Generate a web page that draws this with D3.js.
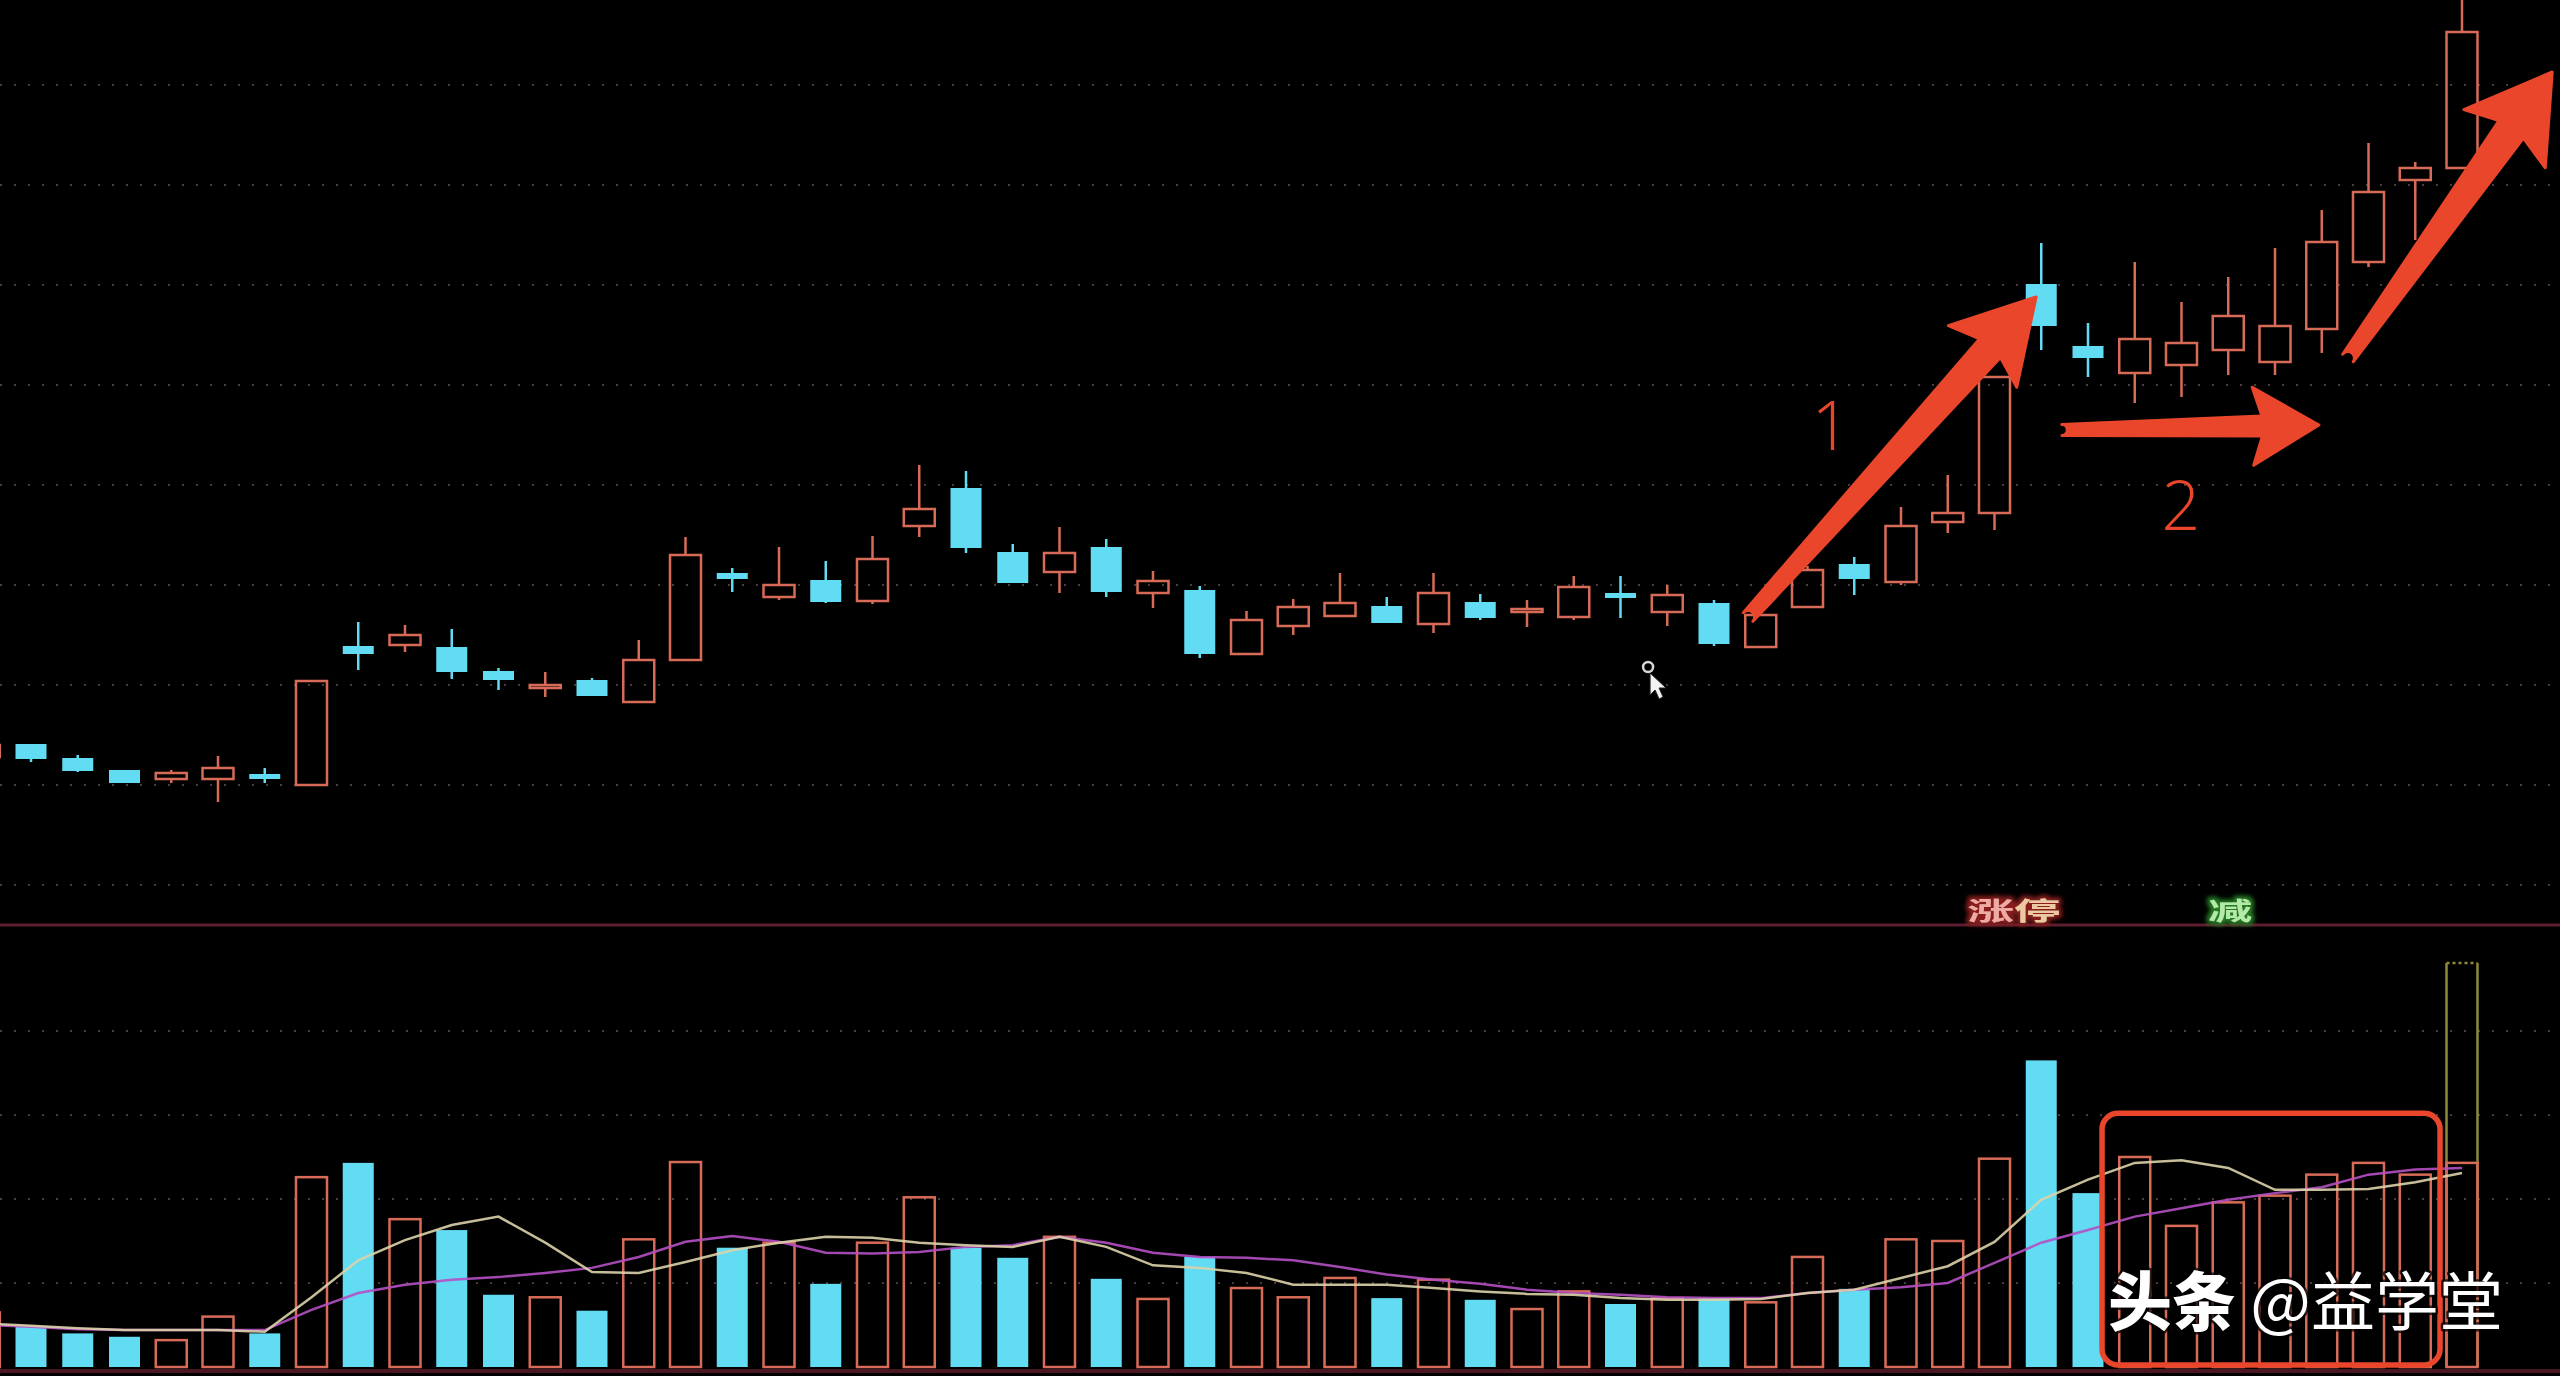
<!DOCTYPE html>
<html>
<head>
<meta charset="utf-8">
<script src="https://cdn.jsdelivr.net/npm/d3@7"></script>
<style>
html,body{margin:0;padding:0;background:#000;overflow:hidden}
svg{display:block}
</style>
</head>
<body>
<svg id="chart" width="2560" height="1376"></svg>
<script>
// ---------------- data ----------------
const days = [-1,0,1,2,3,4,5,6,7,8,9,10,11,12,13,14,15,16,17,18,19,20,21,22,23,24,25,26,27,28,29,30,31,32,33,34,35,36,37,38,39,40,41,42,43,44,45,46,47,48,49,50,51,52];

const open  = [10.28,10.40,10.26,10.14,10.06,10.06,10.10,10.00,11.38,11.40,11.37,11.13,10.97,11.04,10.83,11.25,12.11,11.88,12.04,11.84,12.59,12.96,12.32,12.13,12.37,11.92,11.94,11.31,11.59,11.69,11.78,11.61,11.82,11.73,11.68,11.91,11.73,11.81,11.38,11.78,12.20,12.03,12.63,12.72,15.00,14.38,14.12,14.20,14.35,14.23,14.56,15.23,16.05,16.17];
const close = [10.40,10.27,10.15,10.03,10.12,10.17,10.07,11.04,11.32,11.50,11.14,11.06,11.00,10.90,11.25,12.30,12.07,12.00,11.84,12.26,12.76,12.38,12.03,12.32,11.94,12.04,11.32,11.65,11.78,11.82,11.63,11.92,11.68,11.76,11.98,11.88,11.90,11.42,11.70,12.15,12.07,12.59,12.72,14.08,14.60,14.28,14.46,14.42,14.69,14.59,15.43,15.93,16.17,17.53];
const high  = [10.43,10.40,10.30,10.15,10.15,10.29,10.17,11.04,11.63,11.60,11.56,11.17,11.13,11.07,11.45,12.48,12.17,12.38,12.24,12.49,13.20,13.14,12.41,12.58,12.46,12.14,11.99,11.74,11.86,12.12,11.88,12.12,11.91,11.85,12.09,12.09,12.00,11.85,11.72,12.19,12.28,12.78,13.10,14.08,15.42,14.62,15.23,14.83,15.08,15.37,15.75,16.42,16.23,17.95];
const low   = [10.25,10.23,10.13,10.02,10.02,9.83,10.02,10.00,11.15,11.33,11.06,10.95,10.88,10.89,10.83,11.25,11.93,11.85,11.82,11.81,12.48,12.32,12.02,11.92,11.88,11.77,11.27,11.30,11.50,11.68,11.62,11.52,11.65,11.58,11.65,11.67,11.59,11.39,11.37,11.77,11.90,12.00,12.52,12.55,14.35,14.08,13.82,13.88,14.10,14.10,14.32,15.18,15.45,16.17];

const volume = [6.5,4.8,4.0,3.6,3.2,6.0,4.0,22.6,24.3,17.6,16.3,8.6,8.3,6.7,15.2,24.4,14.2,14.8,9.9,14.8,20.2,14.2,13.0,15.5,10.5,8.1,13.1,9.4,8.3,10.6,8.2,10.4,8.0,6.9,9.0,7.5,8.2,8.2,7.7,13.1,9.3,15.2,15.0,24.8,36.5,20.7,25.0,16.8,19.6,20.4,22.9,24.3,22.9,24.3];
const volMA5  = [5.2,4.9,4.6,4.4,4.4,4.4,4.2,8.3,12.7,15.1,16.9,17.9,14.8,11.3,11.2,12.5,13.9,14.8,15.5,15.4,14.8,14.5,14.3,15.5,14.3,12.1,11.8,11.2,9.8,9.8,9.8,9.4,9.0,8.7,8.6,8.2,8.0,8.0,8.1,8.8,9.2,10.6,12.0,14.9,19.9,22.3,24.3,24.6,23.7,21.1,21.1,21.2,22.0,23.1];
const volMA10 = [5.0,4.8,4.5,4.4,4.4,4.4,4.4,6.8,8.8,9.8,10.4,10.7,11.2,11.8,13.1,14.9,15.6,14.9,13.6,13.5,13.7,14.3,14.5,15.5,14.8,13.6,13.1,13.0,12.7,11.9,11.0,10.4,9.9,9.2,8.8,8.6,8.3,8.2,8.2,8.8,9.2,9.5,10.0,12.4,14.8,16.3,17.9,18.9,19.9,20.7,21.4,22.9,23.5,23.7];
const projectedVolume = {day: 52, value: 48.1};

const priceTicks = [9,10,11,12,13,14,15,16,17];
const volumeTicks = [10,20,30,40];

const markerLabels = [
  {day: 42, dx: -27, text: "涨停", colors: ["#f0aaa4", "#ecc9a2"], glow: "#8a1e1e", id: "glowRed", len: 93},
  {day: 47, dx: -20, text: "减", colors: ["#b4eaa8"], glow: "#237a23", id: "glowGreen", len: 44}
];
const arrows = [
  {from: [36.73, 11.68], to: [42.89, 14.88], tailW: 13, neckW: 28, headL: 80, headW: 92},
  {from: [43.44, 13.55], to: [48.94, 13.60], tailW: 11, neckW: 20, headL: 66, headW: 78},
  {from: [49.56, 14.27], to: [53.93, 17.13], tailW: 13, neckW: 30, headL: 82, headW: 100}
];
const numberNotes = [
  {day: 38.50, price: 13.35, text: "1"},
  {day: 45.99, price: 12.55, text: "2"}
];
const cursorPos = {day: 34.59, price: 11.18};
const boxNote = {d0: 44.30, d1: 51.53, v0: 0.25, v1: 30.2};
const watermark = ["头条", " @益学堂"];

// ---------------- layout ----------------
const W = 2560, H = 1376;
const svg = d3.select("#chart");
const x = d3.scaleLinear().domain([0, 52]).range([31, 2462]);
const yP = d3.scaleLinear().domain([10, 17]).range([785, 85]);
const yV = d3.scaleLinear().domain([0, 40]).range([1367, 1031]);
const bodyW = 31;
const RED = "#d86b57", CYAN = "#62dcf2", ARROW = "#e9462b";

svg.append("rect").attr("width", W).attr("height", H).attr("fill", "#000");

const defs = svg.append("defs");
defs.append("clipPath").attr("id", "clipP").append("rect").attr("x", 0).attr("y", 0).attr("width", W).attr("height", 924);
defs.append("clipPath").attr("id", "clipV").append("rect").attr("x", 0).attr("y", 926).attr("width", W).attr("height", 444);
markerLabels.forEach(m => {
  const f = defs.append("filter").attr("id", m.id).attr("x", "-20%").attr("y", "-50%").attr("width", "140%").attr("height", "200%");
  f.append("feMorphology").attr("in", "SourceAlpha").attr("operator", "dilate").attr("radius", 2.5).attr("result", "dil");
  f.append("feGaussianBlur").attr("in", "dil").attr("stdDeviation", 2).attr("result", "blur");
  f.append("feFlood").attr("flood-color", m.glow).attr("result", "col");
  f.append("feComposite").attr("in", "col").attr("in2", "blur").attr("operator", "in").attr("result", "halo");
  const mg = f.append("feMerge");
  mg.append("feMergeNode").attr("in", "halo");
  mg.append("feMergeNode").attr("in", "SourceGraphic");
});

// grid lines (dotted)
const grid = svg.append("g");
grid.selectAll("line.pg").data(priceTicks).join("line")
  .attr("x1", 0).attr("x2", W)
  .attr("y1", d => yP(d)).attr("y2", d => yP(d))
  .attr("stroke", "#4a3c3c").attr("stroke-width", 2).attr("stroke-dasharray", "2,12");
grid.selectAll("line.vg").data(volumeTicks).join("line")
  .attr("x1", 0).attr("x2", W)
  .attr("y1", d => yV(d)).attr("y2", d => yV(d))
  .attr("stroke", "#4a3c3c").attr("stroke-width", 2).attr("stroke-dasharray", "2,12");

// separators
svg.append("line").attr("x1", 0).attr("x2", W).attr("y1", 925).attr("y2", 925)
  .attr("stroke", "#5e1d2e").attr("stroke-width", 3);
svg.append("line").attr("x1", 0).attr("x2", W).attr("y1", 1371).attr("y2", 1371)
  .attr("stroke", "#4a1622").attr("stroke-width", 4);

const data = days.map((d, k) => ({d, o: open[k], h: high[k], l: low[k], c: close[k], v: volume[k], up: close[k] >= open[k]}));

// ---------------- candles ----------------
const gP = svg.append("g").attr("clip-path", "url(#clipP)");
data.forEach(r => {
  const cx = x(r.d);
  let top = yP(Math.max(r.o, r.c)), bot = yP(Math.min(r.o, r.c));
  if (bot - top < 3) { const m = (top + bot) / 2; top = m - 1.5; bot = m + 1.5; }
  const col = r.up ? RED : CYAN;
  if (r.up) {
    if (yP(r.h) < top) gP.append("line").attr("x1", cx).attr("x2", cx).attr("y1", yP(r.h)).attr("y2", top).attr("stroke", col).attr("stroke-width", 2.5);
    if (yP(r.l) > bot) gP.append("line").attr("x1", cx).attr("x2", cx).attr("y1", bot).attr("y2", yP(r.l)).attr("stroke", col).attr("stroke-width", 2.5);
    gP.append("rect").attr("x", cx - bodyW / 2).attr("y", top).attr("width", bodyW).attr("height", bot - top)
      .attr("fill", "none").attr("stroke", col).attr("stroke-width", 2.5);
  } else {
    gP.append("line").attr("x1", cx).attr("x2", cx).attr("y1", yP(r.h)).attr("y2", yP(r.l)).attr("stroke", col).attr("stroke-width", 2.5);
    gP.append("rect").attr("x", cx - bodyW / 2).attr("y", top - 1).attr("width", bodyW).attr("height", bot - top + 2)
      .attr("fill", col);
  }
});

// ---------------- volume ----------------
const gV = svg.append("g").attr("clip-path", "url(#clipV)");
// projected volume outline for the last day
gV.append("path")
  .attr("d", `M${x(projectedVolume.day) - bodyW / 2},${yV(0)} V${yV(projectedVolume.value)} M${x(projectedVolume.day) + bodyW / 2},${yV(projectedVolume.value)} V${yV(0)}`)
  .attr("stroke", "#8d8a3e").attr("stroke-width", 2.5).attr("fill", "none");
gV.append("line")
  .attr("x1", x(projectedVolume.day) - bodyW / 2).attr("x2", x(projectedVolume.day) + bodyW / 2)
  .attr("y1", yV(projectedVolume.value)).attr("y2", yV(projectedVolume.value))
  .attr("stroke", "#8d8a3e").attr("stroke-width", 2.5).attr("stroke-dasharray", "3,3");

gV.selectAll("rect.vb").data(data).join("rect")
  .attr("x", r => x(r.d) - bodyW / 2)
  .attr("y", r => yV(r.v))
  .attr("width", bodyW)
  .attr("height", r => yV(0) - yV(r.v))
  .attr("fill", r => r.up ? "none" : CYAN)
  .attr("stroke", r => r.up ? RED : "none")
  .attr("stroke-width", 2.5);

const lineMA = arr => d3.line().x((v, k) => x(days[k])).y(v => yV(v))(arr);
gV.append("path").attr("d", lineMA(volMA10)).attr("fill", "none").attr("stroke", "#b54fc4").attr("stroke-width", 2.5).attr("opacity", 0.9);
gV.append("path").attr("d", lineMA(volMA5)).attr("fill", "none").attr("stroke", "#dcd3a8").attr("stroke-width", 2.5).attr("opacity", 0.9);

// ---------------- marker labels ----------------
markerLabels.forEach(m => {
  const t = svg.append("text").attr("x", x(m.day) + m.dx).attr("y", 920)
    .attr("font-family", "'Noto Sans CJK SC', sans-serif").attr("font-size", 25).attr("font-weight", 700)
    .attr("textLength", m.len).attr("lengthAdjust", "spacingAndGlyphs")
    .attr("filter", `url(#${m.id})`);
  [...m.text].forEach((ch, k) => t.append("tspan").attr("fill", m.colors[k] || m.colors[0]).text(ch));
});

// ---------------- annotations ----------------
function arrowPath(a) {
  const T = [x(a.from[0]), yP(a.from[1])], P = [x(a.to[0]), yP(a.to[1])];
  const dx = P[0] - T[0], dy = P[1] - T[1], L = Math.hypot(dx, dy);
  const u = [dx / L, dy / L], n = [-u[1], u[0]];
  const at = (base, along, side) => [base[0] + u[0] * along + n[0] * side, base[1] + u[1] * along + n[1] * side];
  const neck = -a.headL * 0.86;
  const pts = [
    at(T, 0, a.tailW / 2),
    at(P, neck, a.neckW / 2),
    at(P, -a.headL, a.headW / 2),
    P,
    at(P, -a.headL, -a.headW / 2),
    at(P, neck, -a.neckW / 2),
    at(T, 0, -a.tailW / 2)
  ];
  return "M" + pts.map(p => p.join(",")).join("L") + `A${a.tailW / 2},${a.tailW / 2} 0 0 1 ${pts[0].join(",")}Z`;
}
const gA = svg.append("g");
arrows.forEach(a => {
  gA.append("path").attr("d", arrowPath(a)).attr("fill", ARROW)
    .attr("stroke", ARROW).attr("stroke-width", 3).attr("stroke-linejoin", "round");
});
numberNotes.forEach(nn => {
  gA.append("text").attr("x", x(nn.day)).attr("y", yP(nn.price)).attr("text-anchor", "middle")
    .attr("font-family", "'Open Sans', 'Liberation Sans', sans-serif").attr("font-weight", 300)
    .attr("font-size", 68).attr("fill", ARROW).text(nn.text);
});

// mouse cursor
const cx0 = x(cursorPos.day), cy0 = yP(cursorPos.price);
gA.append("circle").attr("cx", cx0).attr("cy", cy0).attr("r", 5).attr("fill", "none").attr("stroke", "#d8d8d8").attr("stroke-width", 2.5);
gA.append("path")
  .attr("d", `M${cx0 + 2},${cy0 + 6} l0,22 l5,-5 l4,9 l4,-2 l-4,-9 l7,0 Z`)
  .attr("fill", "#f2f2f2").attr("stroke", "#222").attr("stroke-width", 1);

// rounded box in volume panel
gA.append("rect")
  .attr("x", x(boxNote.d0)).attr("y", yV(boxNote.v1))
  .attr("width", x(boxNote.d1) - x(boxNote.d0)).attr("height", yV(boxNote.v0) - yV(boxNote.v1))
  .attr("rx", 16).attr("fill", "none").attr("stroke", ARROW).attr("stroke-width", 5.5);

// watermark
const wm = svg.append("text").attr("x", 2108).attr("y", 1325)
  .attr("font-family", "'Noto Sans CJK SC', sans-serif").attr("font-size", 64)
  .attr("fill", "#ffffff").attr("stroke", "rgba(0,0,0,0.75)").attr("stroke-width", 5)
  .attr("paint-order", "stroke").attr("stroke-linejoin", "round");
wm.append("tspan").attr("font-weight", 900).text(watermark[0]);
wm.append("tspan").attr("font-weight", 400).text(watermark[1]);
</script>
</body>
</html>
